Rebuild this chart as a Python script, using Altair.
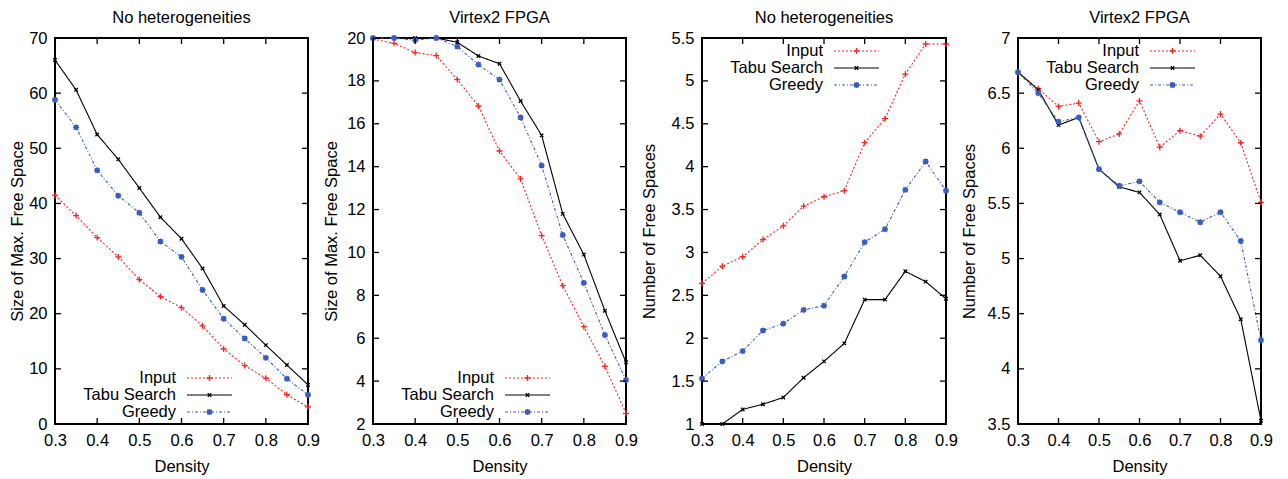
import altair as alt
import pandas as pd

DENSITY = [0.3, 0.35, 0.4, 0.45, 0.5, 0.55, 0.6, 0.65, 0.7, 0.75, 0.8, 0.85, 0.9]
SERIES = ["Input", "Tabu Search", "Greedy"]
X_TICKS = [0.3, 0.4, 0.5, 0.6, 0.7, 0.8, 0.9]

P1_INPUT = [41.5, 37.8, 33.8, 30.3, 26.2, 23.1, 21.1, 17.8, 13.6, 10.6, 8.3, 5.3, 3.1]
P1_TABU = [66.0, 60.6, 52.5, 48.0, 42.8, 37.5, 33.6, 28.2, 21.4, 18.0, 14.3, 10.7, 7.1]
P1_GREEDY = [58.8, 53.8, 46.0, 41.4, 38.3, 33.1, 30.3, 24.3, 19.1, 15.5, 12.0, 8.2, 5.3]

P2_INPUT = [19.95, 19.75, 19.32, 19.18, 18.06, 16.83, 14.73, 13.43, 10.78, 8.45, 6.54, 4.69, 2.5]
P2_TABU = [20.0, 20.0, 20.0, 20.0, 19.8, 19.16, 18.8, 17.06, 15.46, 11.8, 9.9, 7.28, 4.88]
P2_GREEDY = [20.0, 20.0, 19.9, 20.0, 19.6, 18.76, 18.06, 16.29, 14.05, 10.81, 8.58, 6.15, 4.05]

P3_INPUT = [2.64, 2.84, 2.95, 3.15, 3.31, 3.54, 3.65, 3.72, 4.28, 4.56, 5.08, 5.43, 5.43]
P3_TABU = [1.0, 1.0, 1.17, 1.23, 1.31, 1.54, 1.73, 1.94, 2.45, 2.45, 2.78, 2.66, 2.46]
P3_GREEDY = [1.53, 1.73, 1.85, 2.09, 2.17, 2.33, 2.38, 2.72, 3.12, 3.27, 3.73, 4.06, 3.72]

P4_INPUT = [6.69, 6.54, 6.38, 6.41, 6.06, 6.13, 6.43, 6.01, 6.16, 6.11, 6.31, 6.05, 5.51]
P4_TABU = [6.69, 6.53, 6.21, 6.28, 5.81, 5.65, 5.60, 5.40, 4.98, 5.03, 4.84, 4.45, 3.53]
P4_GREEDY = [6.69, 6.50, 6.24, 6.28, 5.81, 5.66, 5.70, 5.51, 5.42, 5.33, 5.42, 5.16, 4.26]

Y1_TICKS = [0, 10, 20, 30, 40, 50, 60, 70]
Y2_TICKS = [2, 4, 6, 8, 10, 12, 14, 16, 18, 20]
Y3_TICKS = [1, 1.5, 2, 2.5, 3, 3.5, 4, 4.5, 5, 5.5]
Y4_TICKS = [3.5, 4, 4.5, 5, 5.5, 6, 6.5, 7]

FONT = "Liberation Sans"
FS = 16.5
H = 386
COLORS = ["#ff2020", "#000000", "#3a5cc0"]
DASHES = [[2, 2], [1, 0], [3, 2, 1, 2]]
PLUS = "M-1,0L1,0M0,-1L0,1"
XSHP = "M-0.75,-0.75L0.75,0.75M-0.75,0.75L0.75,-0.75"
STAR = "M-1,0L1,0M0,-1L0,1M-0.7,-0.7L0.7,0.7M-0.7,0.7L0.7,-0.7M-0.6,-0.6L0.6,-0.6L0.6,0.6L-0.6,0.6Z"
SHAPES = [PLUS, XSHP, STAR]
SIZES = [36, 22, 36]


def panel(title, ytitle, ydom, yticks, series_vals, width, title_off, legend_top):
    rows = []
    for name, vals in zip(SERIES, series_vals):
        for d, v in zip(DENSITY, vals):
            rows.append({"density": d, "value": v, "series": name})
    df = pd.DataFrame(rows)

    xscale = alt.Scale(domain=[0.3, 0.9], nice=False, zero=False)
    yscale = alt.Scale(domain=ydom, nice=False, zero=False)
    xaxis = alt.Axis(values=X_TICKS, format=".1f", title="Density", grid=False, domain=False,
                     ticks=False, tickSize=0, labelPadding=8, labelFlush=False, labelOverlap=False,
                     titleY=42, titleBaseline="middle")
    yaxis = alt.Axis(values=yticks, format=".2~f", title=ytitle, grid=False, domain=False,
                     ticks=False, tickSize=0, labelPadding=8, labelOverlap=False,
                     titleX=-title_off, titleY=H / 2, titleBaseline="middle")
    X = alt.X("density:Q", scale=xscale, axis=xaxis)
    Y = alt.Y("value:Q", scale=yscale, axis=yaxis)

    color = alt.Color("series:N", scale=alt.Scale(domain=SERIES, range=COLORS), legend=None)
    lines = alt.Chart(df).mark_line(strokeWidth=1.1).encode(
        x=X, y=Y, color=color,
        strokeDash=alt.StrokeDash("series:N", scale=alt.Scale(domain=SERIES, range=DASHES), legend=None),
    )
    layers = [lines]
    for i, name in enumerate(SERIES):
        sub = df[df["series"] == name]
        layers.append(
            alt.Chart(sub).mark_point(shape=SHAPES[i], size=SIZES[i], filled=False,
                                      strokeWidth=1.3, color=COLORS[i], opacity=1).encode(x=X, y=Y)
        )

    ydf = pd.DataFrame({"value": yticks})
    xdf = pd.DataFrame({"density": X_TICKS})
    tick_style = dict(color="black", strokeWidth=1.3)
    layers.append(alt.Chart(ydf).mark_rule(**tick_style).encode(y=Y, x=alt.value(0), x2=alt.value(6)))
    layers.append(alt.Chart(ydf).mark_rule(**tick_style).encode(y=Y, x=alt.value(width - 6), x2=alt.value(width)))
    layers.append(alt.Chart(xdf).mark_rule(**tick_style).encode(x=X, y=alt.value(H - 6), y2=alt.value(H)))
    layers.append(alt.Chart(xdf).mark_rule(**tick_style).encode(x=X, y=alt.value(0), y2=alt.value(6)))

    y0 = 13 if legend_top else 340
    for i, name in enumerate(SERIES):
        ly = y0 + 17 * i
        ldf = pd.DataFrame({"label": [name]})
        layers.append(alt.Chart(ldf).mark_text(align="right", baseline="middle", fontSize=FS, font=FONT,
                                               color="black").encode(
            text="label:N", x=alt.value(121), y=alt.value(ly)))
        layers.append(alt.Chart(ldf).mark_rule(color=COLORS[i], strokeWidth=1.1, strokeDash=DASHES[i]).encode(
            x=alt.value(132), x2=alt.value(177), y=alt.value(ly)))
        layers.append(alt.Chart(ldf).mark_point(shape=SHAPES[i], size=SIZES[i], filled=False, strokeWidth=1.3,
                                                color=COLORS[i], opacity=1).encode(
            x=alt.value(154.5), y=alt.value(ly)))

    return alt.layer(*layers).properties(
        width=width, height=H,
        title=alt.TitleParams(title, fontSize=FS, fontWeight="normal", font=FONT, offset=4, anchor="middle",
                              color="black", frame="group"),
    )


p1 = panel("No heterogeneities", "Size of Max. Free Space", [0, 70], Y1_TICKS,
           [P1_INPUT, P1_TABU, P1_GREEDY], 253, 38, False)
p2 = panel("Virtex2 FPGA", "Size of Max. Free Space", [2, 20], Y2_TICKS,
           [P2_INPUT, P2_TABU, P2_GREEDY], 253, 42, False)
p3 = panel("No heterogeneities", "Number of Free Spaces", [1, 5.5], Y3_TICKS,
           [P3_INPUT, P3_TABU, P3_GREEDY], 244, 53, True)
p4 = panel("Virtex2 FPGA", "Number of Free Spaces", [3.5, 7], Y4_TICKS,
           [P4_INPUT, P4_TABU, P4_GREEDY], 243, 49, True)

chart = alt.hconcat(p1, p2, p3, p4, spacing=1).properties(
    padding={"left": 0, "top": 0, "right": 0, "bottom": 0}
).configure(font=FONT).configure_view(
    stroke="black", strokeWidth=2
).configure_axis(
    labelFont=FONT, titleFont=FONT, labelFontSize=FS, titleFontSize=FS,
    titleFontWeight="normal", labelColor="black", titleColor="black"
)

chart.save("out.html", embed_options={"renderer": "svg", "actions": False})
